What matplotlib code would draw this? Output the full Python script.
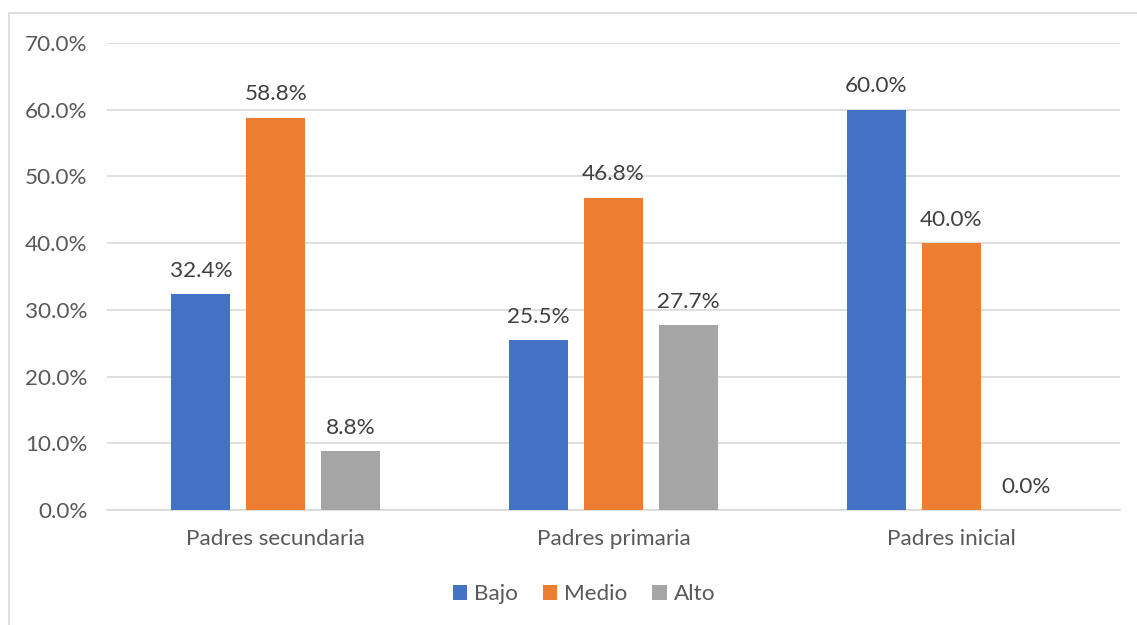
import numpy as np
import matplotlib.pyplot as plt
from matplotlib.patches import Rectangle

categorias = ['Padres secundaria', 'Padres primaria', 'Padres inicial']
bajo = [32.4, 25.5, 60.0]
medio = [58.8, 46.8, 40.0]
alto = [8.8, 27.7, 0.0]
series = ['Bajo', 'Medio', 'Alto']
colores = ['#4472C4', '#ED7D31', '#A5A5A5']

plt.rcParams['font.family'] = ['Lato', 'DejaVu Sans']
texto = '#595959'
fs = 16.2

fig = plt.figure(figsize=(11.37, 6.25), dpi=100)
# borde del grafico (solo arriba e izquierda visibles)
fig.patches.append(Rectangle((9 / 1137, -0.1), 1.2, 1.1 - 13 / 625, transform=fig.transFigure,
                             fill=False, edgecolor='#D9D9D9', linewidth=1.2))

ax = fig.add_axes([107 / 1137, 1 - 510 / 625, (1120 - 107) / 1137, (510 - 43) / 625])

x = np.arange(len(categorias))
ancho = 0.175
paso = 0.222
for i, (vals, nombre, c) in enumerate(zip([bajo, medio, alto], series, colores)):
    pos = x + (i - 1) * paso
    barras = ax.bar(pos, vals, ancho, color=c, label=nombre, zorder=3)
    for b, v in zip(barras, vals):
        ax.text(b.get_x() + b.get_width() / 2, v + 2.0, f'{v:.1f}%', ha='center', va='bottom',
                fontsize=fs, color='#404040')

ax.set_xlim(-0.5, 2.5)
ax.set_ylim(0, 70)
ax.set_yticks(np.arange(0, 71, 10))
ax.set_yticklabels([f'{t:.1f}%' for t in np.arange(0, 71, 10)])
ax.set_xticks(x)
ax.set_xticklabels(categorias)
ax.grid(axis='y', color='#D9D9D9', linewidth=1.2, zorder=0)
for s in ['top', 'right', 'left']:
    ax.spines[s].set_visible(False)
ax.spines['bottom'].set_color('#D9D9D9')
ax.spines['bottom'].set_linewidth(1.2)
ax.tick_params(axis='both', length=0, labelsize=fs, colors=texto)
ax.tick_params(axis='y', pad=14)
ax.tick_params(axis='x', pad=14)

fig.legend(loc='center', bbox_to_anchor=(584 / 1137, 1 - 594 / 625), ncol=3, frameon=False,
           fontsize=fs, handlelength=0.65, handleheight=0.65, handletextpad=0.3,
           columnspacing=1.1, labelcolor=texto)

fig.savefig('out.png', dpi=100)
